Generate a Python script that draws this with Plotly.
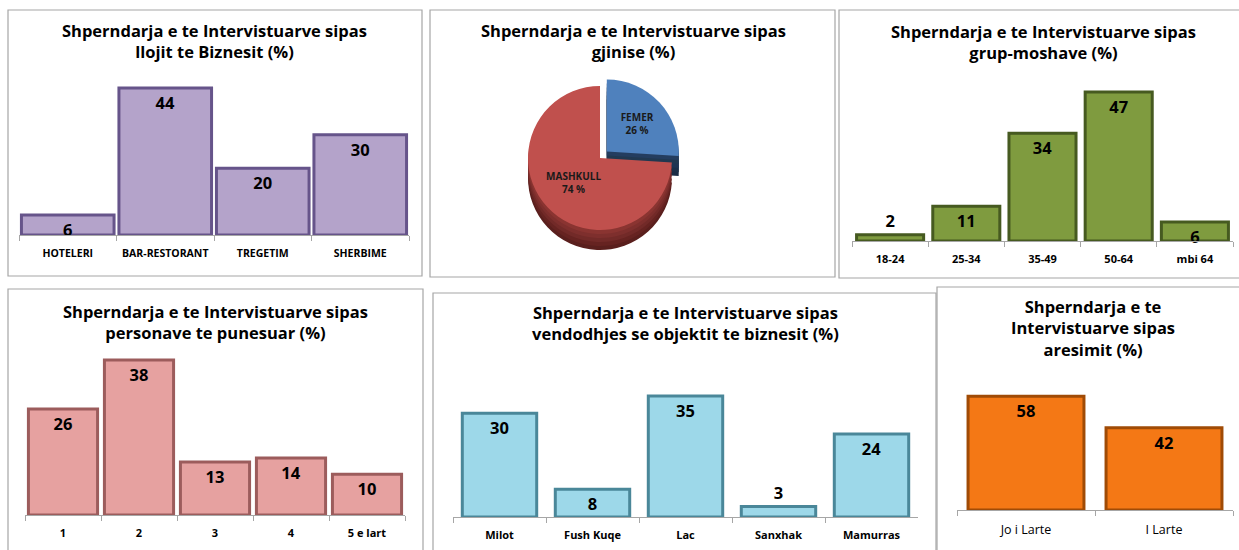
import plotly.graph_objects as go

W, H = 1239, 550

# ---------------- data ----------------
cat_biz = ["HOTELERI", "BAR-RESTORANT", "TREGETIM", "SHERBIME"]
val_biz = [6, 44, 20, 30]

cat_gender = ["FEMER", "MASHKULL"]
val_gender = [26, 74]

cat_age = ["18-24", "25-34", "35-49", "50-64", "mbi 64"]
val_age = [2, 11, 34, 47, 6]

cat_emp = ["1", "2", "3", "4", "5 e lart"]
val_emp = [26, 38, 13, 14, 10]

cat_loc = ["Milot", "Fush Kuqe", "Lac", "Sanxhak", "Mamurras"]
val_loc = [30, 8, 35, 3, 24]

cat_edu = ["Jo i Larte", "I Larte"]
val_edu = [58, 42]

title_biz = "Shperndarja e te Intervistuarve sipas<br>llojit te Biznesit (%)"
title_gender = "Shperndarja e te Intervistuarve sipas<br>gjinise (%)"
title_age = "Shperndarja e te Intervistuarve sipas<br>grup-moshave (%)"
title_emp = "Shperndarja e te Intervistuarve sipas<br>personave te punesuar (%)"
title_loc = "Shperndarja e te Intervistuarve sipas<br>vendodhjes se objektit te biznesit (%)"
title_edu = "Shperndarja e te<br>Intervistuarve sipas<br>aresimit (%)"

TFONT = "Open Sans"


def px_x(x):
    return x / W


def px_y(y):
    return 1 - y / H


fig = go.Figure()
layout_axes = {}
annotations = []
shapes = []

# panel borders
borders = [(8, 10, 422, 276), (430, 10, 835, 277), (839, 10, 1250, 278),
           (8, 289, 423, 560), (433, 293, 936, 560), (937, 287, 1250, 560)]
for (x0, y0, x1, y1) in borders:
    shapes.append(dict(type="rect", xref="paper", yref="paper",
                       x0=px_x(x0), x1=px_x(x1), y0=px_y(y1), y1=px_y(y0),
                       line=dict(color="#A6A6A6", width=1.2), layer="below"))


def add_title(text, xc, yc):
    annotations.append(dict(text=text, x=px_x(xc), y=px_y(yc), xref="paper", yref="paper",
                            xanchor="center", yanchor="middle", showarrow=False, align="center",
                            font=dict(family=TFONT, size=16.5, color="black", weight="bold")))


panels = [
    dict(cats=cat_biz, vals=val_biz, title=title_biz, x0=19, x1=409, yb=235, ppu=3.34,
         gap=0.05, color="#B4A3CA", edge="#66548A", tx=214, ty=41, bold=True, ts=10.5),
    dict(cats=cat_age, vals=val_age, title=title_age, x0=852, x1=1233, yb=241, ppu=3.17,
         gap=0.12, color="#7F9B3F", edge="#465A20", tx=1043, ty=42, bold=True, ts=11),
    dict(cats=cat_emp, vals=val_emp, title=title_emp, x0=25, x1=405, yb=515, ppu=4.08,
         gap=0.09, color="#E6A1A0", edge="#9C5C5C", tx=215, ty=322, bold=True, ts=11),
    dict(cats=cat_loc, vals=val_loc, title=title_loc, x0=453, x1=918, yb=517, ppu=3.46,
         gap=0.2, color="#9DD8E9", edge="#4A8799", tx=685, ty=323, bold=True, ts=11),
    dict(cats=cat_edu, vals=val_edu, title=title_edu, x0=957, x1=1233, yb=510, ppu=1.96,
         gap=0.16, color="#F47815", edge="#A04B06", tx=1093, ty=328, bold=False, ts=12.5),
]

for i, p in enumerate(panels, start=1):
    xa = "x" if i == 1 else f"x{i}"
    ya = "y" if i == 1 else f"y{i}"
    top_px = p["yb"] - 190
    positions = ["outside" if v * p["ppu"] < 12 else "inside" for v in p["vals"]]
    fig.add_trace(go.Bar(
        x=p["cats"], y=p["vals"], xaxis=xa, yaxis=ya,
        width=[1 - p["gap"]] * len(p["vals"]),
        marker=dict(color=p["color"], line=dict(color=p["edge"], width=3)),
        text=[str(v) for v in p["vals"]], textposition=positions, textangle=0,
        insidetextanchor="end", constraintext="none", cliponaxis=False,
        textfont=dict(family=TFONT, size=16.5, color="black", weight="bold"),
        hoverinfo="skip", showlegend=False,
    ))
    layout_axes["xaxis" if i == 1 else f"xaxis{i}"] = dict(
        domain=[px_x(p["x0"]), px_x(p["x1"])], anchor=ya,
        type="category", showgrid=False, zeroline=False,
        showline=True, linecolor="#A6A6A6", linewidth=1.3,
        ticks="outside", tickson="boundaries", ticklen=5, tickcolor="#A6A6A6",
        ticklabelstandoff=8, tickangle=0,
        tickfont=dict(family=TFONT, size=p["ts"], color="black",
                      weight="bold" if p["bold"] else "normal"),
        fixedrange=True,
    )
    layout_axes["yaxis" if i == 1 else f"yaxis{i}"] = dict(
        domain=[px_y(p["yb"]), px_y(top_px)], anchor=xa,
        range=[0, (p["yb"] - top_px) / p["ppu"]], visible=False, fixedrange=True,
    )
    add_title(p["title"], p["tx"], p["ty"])

# ---------------- pie (pseudo 3D) ----------------
pull = [0.13, 0]
cx, cy, r = 600, 158, 72
half = r * (1 + max(pull))
for off, cols in [(20, ["#1A2D46", "#5A1F1D"]), (16, ["#1C3049", "#662321"]),
                  (12, ["#1F3553", "#722A28"]), (8, ["#213850", "#7E2F2D"]),
                  (4, ["#243D5F", "#8A3431"])]:
    fig.add_trace(go.Pie(
        labels=cat_gender, values=val_gender, sort=False, direction="clockwise", rotation=0,
        pull=pull, marker=dict(colors=cols, line=dict(width=0)), textinfo="none",
        hoverinfo="skip", showlegend=False,
        domain=dict(x=[px_x(cx - half), px_x(cx + half)],
                    y=[px_y(cy + off + half), px_y(cy + off - half)]),
    ))
fig.add_trace(go.Pie(
    labels=cat_gender, values=val_gender, sort=False, direction="clockwise", rotation=0,
    pull=pull, marker=dict(colors=["#4F81BD", "#C0504D"], line=dict(width=0)),
    texttemplate="%{label}<br>%{value} %", textposition="inside", insidetextorientation="horizontal",
    textfont=dict(family=TFONT, size=10, color="#1A1A1A", weight="bold"),
    hoverinfo="skip", showlegend=False,
    domain=dict(x=[px_x(cx - half), px_x(cx + half)],
                y=[px_y(cy + half), px_y(cy - half)]),
))
add_title(title_gender, 633, 41)

fig.update_layout(
    width=W, height=H, margin=dict(l=0, r=0, t=0, b=0),
    paper_bgcolor="white", plot_bgcolor="white", showlegend=False,
    annotations=annotations, shapes=shapes,
    **layout_axes,
)

fig.write_html("out.html", config={"displayModeBar": False},
               post_script="document.body.style.margin='0';")
